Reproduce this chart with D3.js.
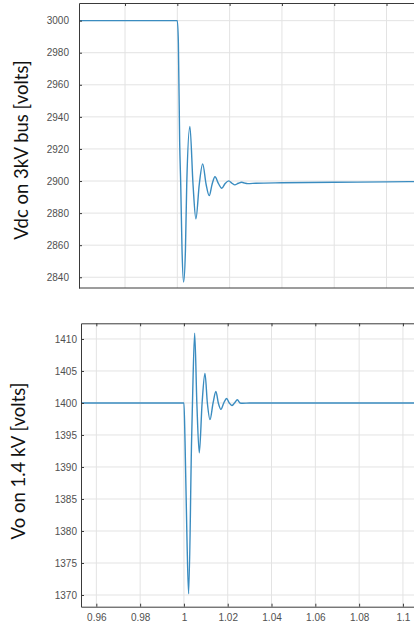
<!DOCTYPE html>
<html>
<head>
<meta charset="utf-8">
<script src="https://cdn.jsdelivr.net/npm/d3@7"></script>
<style>
  body { margin: 0; background: #fff; }
  svg { display: block; }
</style>
</head>
<body>
<div id="chart"></div>
<script>
// Vdc on the 3kV bus (time in s, volts)
var vdcTime = [0.95, 1.0, 1.0004, 1.0009, 1.0013, 1.0018, 1.0024, 1.0031, 1.0036, 1.0048, 1.0060, 1.0071,
  1.0084, 1.0097, 1.0110, 1.0122, 1.0133, 1.0144, 1.0157, 1.0170, 1.0183, 1.0197, 1.0209, 1.0220,
  1.0233, 1.0246, 1.0258, 1.0269, 1.030, 1.04, 1.06, 1.08, 1.10];
var vdcVolts = [3000, 3000, 2986, 2924, 2898, 2857, 2837, 2857, 2898, 2934, 2898, 2876.4,
  2898, 2910.7, 2898, 2890.9, 2898, 2902.7, 2898.5, 2895.5, 2898.5, 2900.1, 2898.6, 2897.6,
  2898.6, 2899.2, 2898.7, 2898.4, 2898.6, 2898.9, 2899.2, 2899.5, 2899.7];

// Vo on the 1.4 kV side, bottom panel
var voTime = [0.95, 1.0, 1.0005, 1.0014, 1.00215, 1.0035, 1.0039, 1.0049, 1.0059, 1.0070, 1.0083,
  1.0096, 1.0107, 1.0119, 1.0133, 1.0146, 1.0157, 1.0169, 1.0182, 1.0195, 1.0207, 1.0219,
  1.0231, 1.0244, 1.0256, 1.0268, 1.030, 1.12];
var voVolts = [1400, 1400, 1394, 1378.6, 1370.2, 1394.2, 1400, 1410.9, 1400, 1392.2, 1400,
  1404.6, 1400, 1397.4, 1400, 1401.8, 1400, 1399.0, 1400, 1400.7, 1400, 1399.6,
  1400, 1400.5, 1400, 1399.95, 1400, 1400];

var topYTicks = [2840, 2860, 2880, 2900, 2920, 2940, 2960, 2980, 3000];
var topXTicks = [0.98, 1.0, 1.02, 1.04, 1.06, 1.08];
var botYTicks = [1370, 1375, 1380, 1385, 1390, 1395, 1400, 1405, 1410];
var botXTicks = [0.96, 0.98, 1.0, 1.02, 1.04, 1.06, 1.08, 1.1];

var W = 414, H = 628;
var svg = d3.select("#chart").append("svg")
  .attr("width", W).attr("height", H)
  .style("font-family", "'Liberation Sans', Arial, sans-serif");

var fmt = function (d) { return String(+d.toFixed(2)); };

function panel(o) {
  var g = svg.append("g");
  var x = d3.scaleLinear().domain(o.xDomain).range([o.left, o.right]);
  var y = d3.scaleLinear().domain(o.yDomain).range([o.bottom, o.top]);

  // grid
  g.append("g").selectAll("line").data(o.xTicks).join("line")
    .attr("x1", d => x(d)).attr("x2", d => x(d))
    .attr("y1", o.top).attr("y2", o.bottom)
    .attr("stroke", "#e3e3e3").attr("stroke-width", 1);
  g.append("g").selectAll("line").data(o.yTicks).join("line")
    .attr("x1", o.left).attr("x2", o.right)
    .attr("y1", d => y(d)).attr("y2", d => y(d))
    .attr("stroke", "#e3e3e3").attr("stroke-width", 1);

  // the trace
  var clipId = "clip" + o.id;
  svg.append("clipPath").attr("id", clipId).append("rect")
    .attr("x", o.left).attr("y", o.top)
    .attr("width", o.right - o.left).attr("height", o.bottom - o.top);
  var pts = o.t.map((t, i) => [t, o.v[i]]);
  g.append("path")
    .datum(pts)
    .attr("clip-path", "url(#" + clipId + ")")
    .attr("fill", "none")
    .attr("stroke", "#3a8cc0")
    .attr("stroke-width", 1.4)
    .attr("d", d3.line().x(d => x(d[0])).y(d => y(d[1])).curve(d3.curveMonotoneX));

  // axes, ticks pointing inward like matlab
  var ya = g.append("g").attr("transform", `translate(${o.left},0)`)
    .call(d3.axisLeft(y).tickValues(o.yTicks).tickFormat(fmt)
      .tickSizeInner(-3).tickSizeOuter(0).tickPadding(o.yPad));
  var xa = g.append("g").attr("transform", `translate(0,${o.bottom})`)
    .call(d3.axisBottom(x).tickValues(o.xTicks).tickFormat(fmt)
      .tickSizeInner(-3).tickSizeOuter(0).tickPadding(o.xPad));
  var ta = g.append("g").attr("transform", `translate(0,${o.top})`)
    .call(d3.axisTop(x).tickValues(o.xTicks).tickFormat("")
      .tickSizeInner(-3).tickSizeOuter(0));
  [ya, xa, ta].forEach(a => {
    a.select(".domain").attr("stroke", "#3a3a3a").attr("stroke-width", 1);
    a.selectAll(".tick line").attr("stroke", "#3a3a3a");
    a.selectAll("text").attr("fill", "#505050").style("font-size", "10px");
  });
  if (o.clipXLabels) {
    svg.append("clipPath").attr("id", "lab" + o.id).append("rect")
      .attr("x", 0).attr("y", 296).attr("width", W).attr("height", 5);
    xa.attr("clip-path", "url(#lab" + o.id + ")");
    // keep the axis line itself visible
    g.append("line").attr("x1", o.left).attr("x2", o.right)
      .attr("y1", o.bottom).attr("y2", o.bottom)
      .attr("stroke", "#3a3a3a");
  }

  // y title
  g.append("text")
    .attr("transform", `translate(${o.titleX},${o.titleY}) rotate(-90)`)
    .attr("text-anchor", "middle")
    .style("font-family", "Lato, 'Open Sans', sans-serif")
    .style("font-size", "18.5px")
    .attr("fill", "#111")
    .text(o.title);
}

panel({
  id: "top", t: vdcTime, v: vdcVolts,
  xDomain: [0.9624, 1.10], left: 79, right: 79 + (1.10 - 0.9624) / 0.02 * 52.3,
  yDomain: [2833.3, 3011], top: 3, bottom: 288,
  xTicks: topXTicks, yTicks: topYTicks, yPad: 10, xPad: 7,
  clipXLabels: true,
  title: "Vdc on 3kV bus [volts]", titleX: 28, titleY: 150
});

panel({
  id: "bot", t: voTime, v: voVolts,
  xDomain: [0.953, 1.11], left: 81, right: 81 + (1.11 - 0.953) / 0.02 * 43.8,
  yDomain: [1368.17, 1412.45], top: 323.3, bottom: 606.7,
  xTicks: botXTicks, yTicks: botYTicks, yPad: 4, xPad: 7,
  clipXLabels: false,
  title: "Vo on 1.4 kV [volts]", titleX: 25, titleY: 461
});
</script>
</body>
</html>
